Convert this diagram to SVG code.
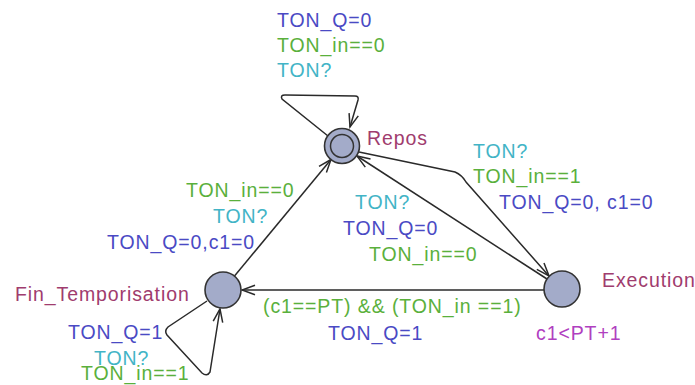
<svg xmlns="http://www.w3.org/2000/svg" width="695" height="385" viewBox="0 0 695 385">
<style>
text{font-family:"Liberation Sans",Arial,sans-serif;font-size:19.5px;letter-spacing:0.9px}
.loc{fill:#a03c6e}
.inv{fill:#b040c0}
.g{fill:#5ab03c}
.s{fill:#42b4c6}
.u{fill:#4a4ac4}
.node{fill:#a3abc9;stroke:#333;stroke-width:1.6}
.edge{fill:none;stroke:#2a2a2a;stroke-width:1.5}
</style>
<defs>
<marker id="arr" markerUnits="userSpaceOnUse" markerWidth="16" markerHeight="14" viewBox="-14 -7 16 14" refX="0" refY="0" orient="auto">
<path d="M -13,-4.8 L 0,0 L -13,4.8" fill="none" stroke="#2a2a2a" stroke-width="1.5"/>
</marker>
</defs>
<rect width="695" height="385" fill="#fff"/>
<g id="connectors">
<path class="edge" d="M 328,136 L 282,99 Q 280,95 285,95 L 355,96 Q 359,96 358,100 L 350,127" marker-end="url(#arr)"/>
<path class="edge" d="M 359,152 L 455,172 Q 462,175 466,182 L 549,276" marker-end="url(#arr)"/>
<path class="edge" d="M 547,279 L 357,156" marker-end="url(#arr)"/>
<path class="edge" d="M 234.5,276 L 331,159.5" marker-end="url(#arr)"/>
<path class="edge" d="M 544,290 L 242,290" marker-end="url(#arr)"/>
<path class="edge" d="M 207,301 L 168,327 Q 164,331 167,335 L 202,373 Q 207,377 210,372 L 220,309" marker-end="url(#arr)"/>
</g>
<g id="edge-labels">
<text x="277" y="27" class="u">TON_Q=0</text>
<text x="277" y="52" class="g">TON_in==0</text>
<text x="277" y="77" class="s">TON?</text>
<text x="473" y="158" class="s">TON?</text>
<text x="473" y="183" class="g">TON_in==1</text>
<text x="499" y="209" class="u">TON_Q=0, c1=0</text>
<text x="355" y="209" class="s">TON?</text>
<text x="343" y="235" class="u">TON_Q=0</text>
<text x="369" y="261" class="g">TON_in==0</text>
<text x="186" y="197" class="g">TON_in==0</text>
<text x="213" y="223" class="s">TON?</text>
<text x="107" y="249" class="u">TON_Q=0,c1=0</text>
<text x="263" y="313" class="g">(c1==PT) &amp;&amp; (TON_in ==1)</text>
<text x="328" y="340" class="u">TON_Q=1</text>
<text x="68" y="339" class="u">TON_Q=1</text>
<text x="94" y="365" class="s">TON?</text>
<text x="81" y="380" class="g">TON_in==1</text>
</g>
<g id="Repos">
<circle class="node" cx="342" cy="146" r="17.5"/>
<circle cx="342" cy="146" r="11.5" fill="none" stroke="#333" stroke-width="1.5"/>
<text x="367" y="145" class="loc">Repos</text>
</g>
<g id="Execution">
<circle class="node" cx="562" cy="289" r="18"/>
<text x="602" y="287" class="loc">Execution</text>
<text x="536" y="340" class="inv">c1&lt;PT+1</text>
</g>
<g id="Fin_Temporisation">
<circle class="node" cx="223" cy="290" r="18"/>
<text x="15" y="301" class="loc">Fin_Temporisation</text>
</g>
</svg>
